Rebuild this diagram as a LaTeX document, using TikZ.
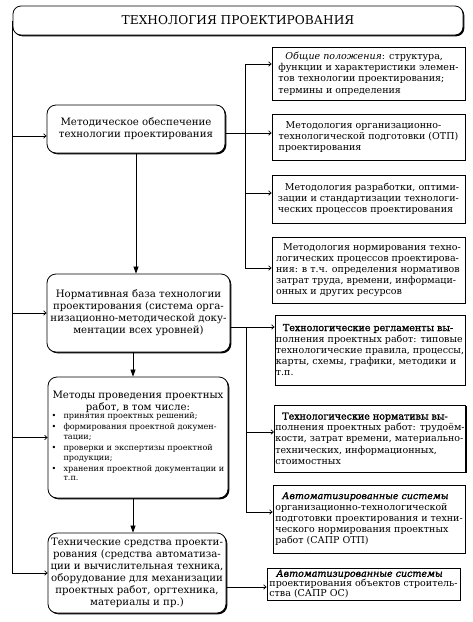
\documentclass[tikz,border=0pt]{standalone}
\usepackage{fontspec}
\setmainfont{DejaVu Serif}
\newfontfamily\fbold[FakeBold=1.6]{DejaVu Serif}
\usetikzlibrary{arrows.meta,shadows}
\begin{document}
\begin{tikzpicture}[x=1pt,y=-1pt,
 box/.style={draw, line width=0.8pt, fill=white, drop shadow={shadow xshift=1.3pt,shadow yshift=-1.3pt,fill=black,opacity=1}, inner sep=2pt},
 lbox/.style={box, rounded corners=9pt, align=center, font=\fontsize{10.2}{12}\selectfont},
 rbox/.style={box, align=left, font=\fontsize{9.5}{11.2}\selectfont},
 sarr/.style={line width=0.7pt, -{Straight Barb[length=2.5pt,width=4.5pt]}},
 varr/.style={line width=0.7pt, -{Triangle[length=7pt,width=5pt]}},
 ln/.style={line width=0.7pt}]
\useasboundingbox (0,0) rectangle (472,622);
\fill[white] (0,0) rectangle (472,622);
\newcommand\ind{\hspace*{7pt}}
\newcommand\kb[1]{{\fbold #1}}
\newcommand\kbi[1]{{\fbold\itshape #1}}
% title
\node[box, rounded corners=8pt, minimum width=450pt, minimum height=29pt, font=\fontsize{12.2}{14}\selectfont] (title) at (238,20.5) {ТЕХНОЛОГИЯ ПРОЕКТИРОВАНИЯ};
% left boxes
\node[lbox, minimum width=178pt, minimum height=48pt] (b1) at (136,129) {Методическое обеспечение\\технологии проектирования};
\node[lbox, minimum width=183pt, minimum height=78pt] (b2) at (138.5,313) {Нормативная база технологии\\проектирования (система орга-\\низационно-методической доку-\\ментации всех уровней)};
\node[lbox, minimum width=180pt, minimum height=121pt, inner sep=1pt] (b3) at (138,437.5) {Методы проведения проектных\\работ, в том числе:\\[-2pt]
{\fontsize{8.1}{9.6}\selectfont\begin{tabular}{@{}l@{\hspace{7pt}}l@{}}
\textbullet & принятия проектных решений;\\[1.5pt]
\textbullet & формирования проектной докумен-\\
 & тации;\\[1.5pt]
\textbullet & проверки и экспертизы проектной\\
 & продукции;\\[1.5pt]
\textbullet & хранения проектной документации и\\
 & т.п.
\end{tabular}}};
\node[lbox, minimum width=178pt, minimum height=80pt, inner sep=1pt] (b4) at (137,573) {Технические средства проекти-\\рования (средства автоматиза-\\ции и вычислительная техника,\\оборудование для механизации\\проектных работ, оргтехника,\\материалы и пр.)};
% right boxes
\node[rbox, minimum width=193pt, minimum height=53pt] (r1) at (368.5,73.5) {\ind\textit{Общие положения}: структура,\\функции и характеристики элемен-\\тов технологии проектирования;\\термины и определения};
\node[rbox, minimum width=193pt, minimum height=46pt] (r2) at (368.5,137) {\ind Методология организационно-\\технологической подготовки (ОТП)\\проектирования};
\node[rbox, minimum width=193pt, minimum height=48pt] (r3) at (368.5,199) {\ind Методология разработки, оптими-\\зации и стандартизации технологи-\\ческих процессов проектирования};
\node[rbox, minimum width=193pt, minimum height=66pt, inner sep=1pt] (r4) at (368.5,270) {\ind Методология нормирования техно-\\логических процессов проектирова-\\ния: в т.ч. определения нормативов\\затрат труда, времени, информаци-\\онных и других ресурсов};
\node[rbox, minimum width=190pt, minimum height=70pt, inner sep=1pt] (r5) at (370,350) {\ind\kb{Технологические регламенты вы-}\\полнения проектных работ: типовые\\технологические правила, процессы,\\карты, схемы, графики, методики и\\т.п.};
\node[rbox, minimum width=190pt, minimum height=67pt, inner sep=1pt] (r6) at (370,438.5) {\ind\kb{Технологические нормативы вы-}\\полнения проектных работ: трудоём-\\кости, затрат времени, материально-\\технических, информационных,\\стоимостных};
\node[rbox, minimum width=192pt, minimum height=68pt, inner sep=1pt] (r7) at (369,519) {\ind\kbi{Автоматизированные системы}\\организационно-технологической\\подготовки проектирования и техни-\\ческого нормирования проектных\\работ (САПР ОТП)};
\node[rbox, minimum width=193pt, minimum height=32pt, inner sep=1pt, font=\fontsize{9.5}{10}\selectfont] (r8) at (363.5,584) {\ind\kbi{Автоматизированные системы}\\проектирования объектов строитель-\\ства (САПР ОС)};
% left spine
\coordinate (lb) at (title.west |- b4.west);
\draw[sarr] (title.west) -- (lb) -- (b4.west);
\draw[sarr] (title.west |- 0,136) -- (b1.west |- 0,136);
\draw[sarr] (title.west |- b2.west) -- (b2.west);
\draw[sarr] (title.west |- b3.west) -- (b3.west);
% vertical chain
\draw[varr] (b1.south) -- (b1.south |- b2.north);
\draw[varr] (b2.south -| 133,0) -- (b3.north -| 133,0);
\draw[varr] (b3.south -| 133,0) -- (b4.north -| 133,0);
% box1 branch
\coordinate (j1) at (245,133);
\draw[sarr] (b1.east |- j1) -- (r2.west |- j1);
\draw[sarr] (j1) |- (r1.west |- 0,64);
\draw[sarr] (j1) |- (r3.west |- 0,193);
\draw[sarr] (j1) |- (r4.west |- 0,268);
% box2 branch
\coordinate (j2) at (246,327);
\draw[sarr] (b2.east |- j2) -- (r5.west |- j2);
\draw[sarr] (j2) |- (r6.west |- 0,432);
\draw[sarr] (j2) |- (r7.west |- 0,512);
% box4
\draw[sarr] (b4.east |- 0,587) -- (r8.west |- 0,587);
\end{tikzpicture}
\end{document}
